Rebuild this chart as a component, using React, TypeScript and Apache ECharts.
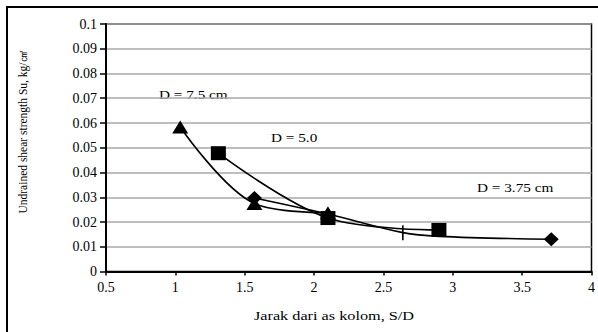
import React, { useEffect, useRef } from "react";
import * as echarts from "echarts";

const xTicks = [0.5, 1, 1.5, 2, 2.5, 3, 3.5, 4];
const yTicks = [0, 0.01, 0.02, 0.03, 0.04, 0.05, 0.06, 0.07, 0.08, 0.09, 0.1];

const seriesD75: number[][] = [
  [1.035, 0.0584],
  [1.57, 0.0275],
  [2.1, 0.0237],
];
const seriesD50: number[][] = [
  [1.31, 0.0478],
  [2.1, 0.0216],
  [2.9, 0.0168],
];
const seriesD375: number[][] = [
  [1.57, 0.0297],
  [2.1, 0.0232],
  [2.64, 0.0157],
  [2.9, 0.0142],
  [3.71, 0.013],
];
const tickPointIndex = 2;
const hiddenMarkerIndices = [1, 3];

const labels = ["D = 7.5 cm", "D = 5.0", "D = 3.75 cm"];
const FONT = "'Liberation Serif', 'Times New Roman', serif";

export default function App() {
  const ref = useRef<HTMLDivElement>(null);
  useEffect(() => {
    if (!ref.current) return;
    const chart = echarts.init(ref.current, undefined, { renderer: "svg" });
    const lineStyle = { color: "#000", width: 1.6 };
    const txt = (text: string, x: number, y: number) => ({
      type: "text",
      x,
      y,
      scaleX: 1.22,
      style: { text, font: `12.5px ${FONT}`, fill: "#000", verticalAlign: "middle" },
    });
    chart.setOption({
      animation: false,
      backgroundColor: "#fff",
      grid: {
        left: 106,
        right: 5,
        top: 24,
        bottom: 60.5,
        show: true,
        borderColor: "#000",
        borderWidth: 1.5,
      },
      xAxis: {
        type: "value",
        min: xTicks[0],
        max: xTicks[xTicks.length - 1],
        interval: 0.5,
        axisLine: { lineStyle: { color: "#000", width: 2 } },
        axisTick: { show: true, length: 4, lineStyle: { color: "#000", width: 1.5 } },
        axisLabel: { color: "#000", fontFamily: FONT, fontSize: 14, margin: 9 },
        splitLine: { show: false },
      },
      yAxis: {
        type: "value",
        min: yTicks[0],
        max: yTicks[yTicks.length - 1],
        interval: 0.01,
        axisLine: { show: true, lineStyle: { color: "#000", width: 2 } },
        axisTick: { show: true, length: 6, lineStyle: { color: "#000", width: 1.5 } },
        axisLabel: {
          color: "#000",
          fontFamily: FONT,
          fontSize: 14,
          margin: 9,
          formatter: (v: number) => String(parseFloat(v.toFixed(2))),
        },
        splitLine: { show: true, lineStyle: { color: "#a8a8a8", width: 1.5 } },
      },
      series: [
        {
          type: "line",
          data: seriesD375.map((p, i) =>
            i === tickPointIndex
              ? { value: p, symbol: "rect", symbolSize: [1.6, 15] }
              : hiddenMarkerIndices.includes(i)
              ? { value: p, symbol: "none" }
              : { value: p }
          ),
          smooth: 0.35,
          symbol: "diamond",
          symbolSize: [15, 14],
          itemStyle: { color: "#000" },
          lineStyle,
          z: 2,
        },
        {
          type: "line",
          data: seriesD75,
          smooth: 0.35,
          symbol: "triangle",
          symbolSize: [16, 13],
          itemStyle: { color: "#000" },
          lineStyle,
          z: 3,
        },
        {
          type: "line",
          data: seriesD50,
          smooth: 0.35,
          symbol: "rect",
          symbolSize: [15, 14],
          itemStyle: { color: "#000" },
          lineStyle,
          z: 4,
        },
      ],
      graphic: [
        {
          type: "rect",
          shape: { x: 7, y: 7, width: 700, height: 400 },
          style: { fill: "none", stroke: "#000", lineWidth: 2 },
          silent: true,
        },
        txt(labels[0], 159, 95),
        txt(labels[1], 271, 138),
        txt(labels[2], 477, 188),
        {
          type: "text",
          x: 334,
          y: 316,
          scaleX: 1.25,
          style: {
            text: "Jarak dari as kolom, S/D",
            font: `13px ${FONT}`,
            fill: "#000",
            align: "center",
            verticalAlign: "middle",
          },
        },
        {
          type: "text",
          x: 23,
          y: 132,
          rotation: Math.PI / 2,
          style: {
            text: "Undrained shear strength Su, kg/㎠",
            font: `11.5px ${FONT}`,
            fill: "#000",
            align: "center",
            verticalAlign: "middle",
          },
        },
      ],
    });
    return () => chart.dispose();
  }, []);
  return (
    <div
      ref={ref}
      style={{ position: "fixed", left: 0, top: 0, width: 598, height: 332, background: "#fff" }}
    />
  );
}
